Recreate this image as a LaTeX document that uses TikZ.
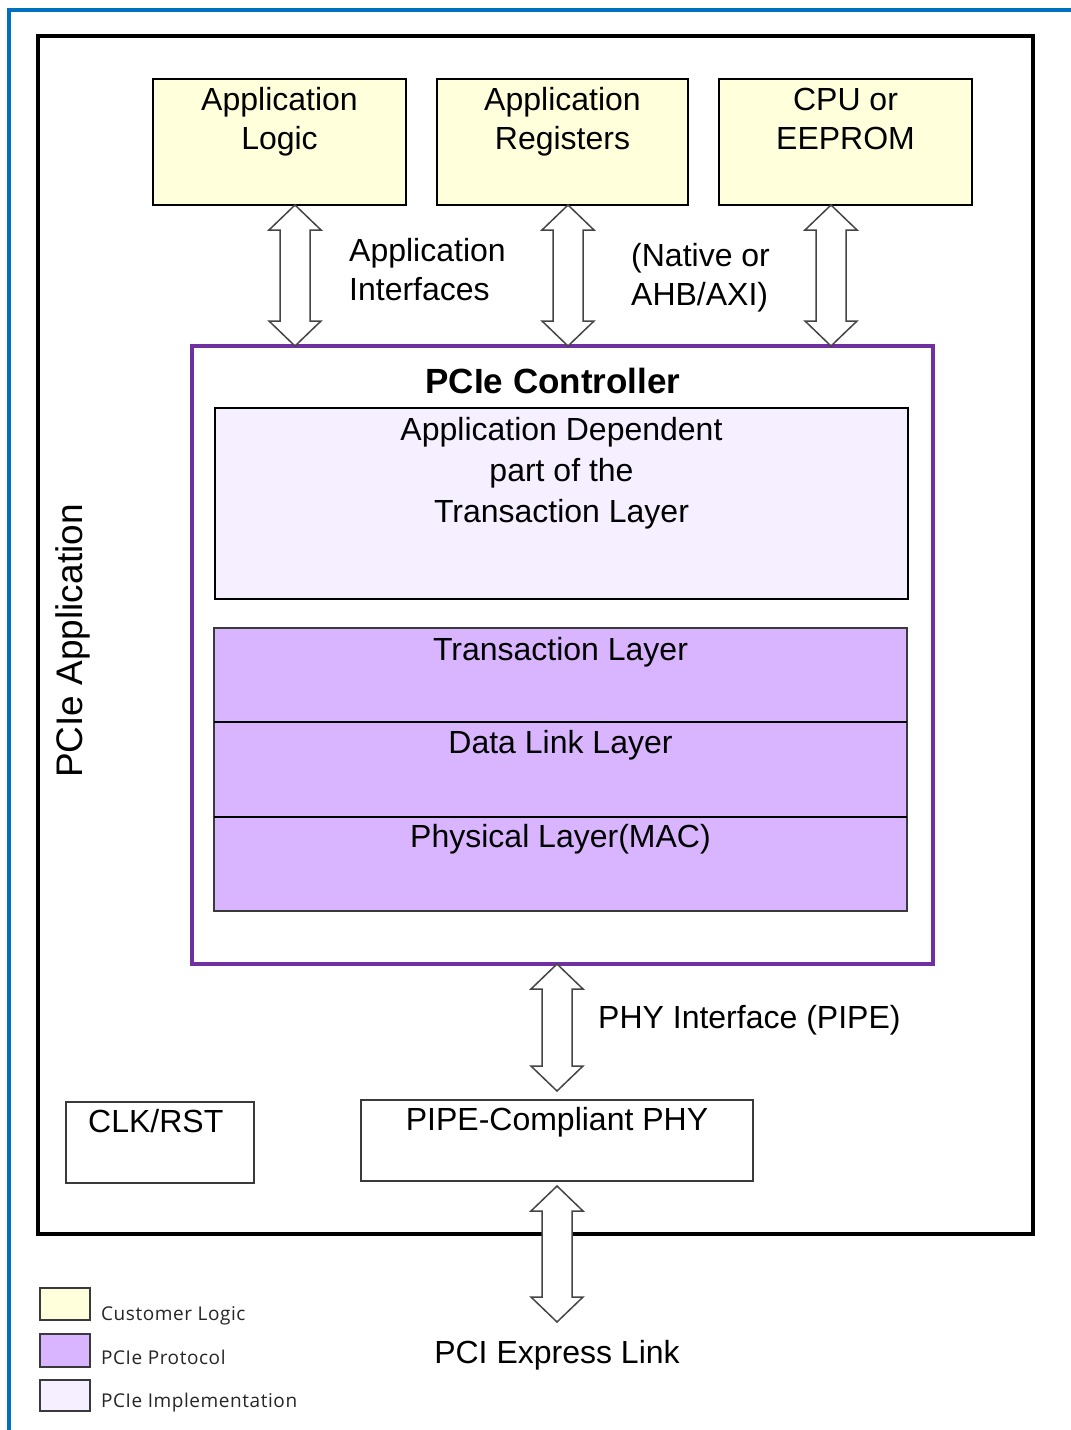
\documentclass[tikz,border=0pt]{standalone}
\usepackage{fontspec}
\setmainfont{Liberation Sans}
\newfontfamily\legendfont[LetterSpace=3]{Open Sans}
\usetikzlibrary{calc}
\definecolor{custY}{HTML}{FFFFDC}
\definecolor{protP}{HTML}{D9B5FF}
\definecolor{implP}{HTML}{F6EFFF}
\definecolor{ctrlP}{HTML}{7030A0}
\definecolor{frameB}{HTML}{0070C0}
\definecolor{arrG}{HTML}{454545}
\definecolor{edgeG}{HTML}{3A3A3A}
\tikzset{
  basebox/.style={inner sep=0pt, outer sep=0pt},
  ybox/.style={basebox, draw=black, line width=1.5pt, fill=custY},
  appbox/.style={basebox, draw=black, line width=3.5pt},
  ctrlbox/.style={basebox, draw=ctrlP, line width=3.5pt},
  implbox/.style={basebox, draw=black, line width=1.5pt, fill=implP},
  protbox/.style={basebox, draw=edgeG, line width=1.5pt, fill=protP},
  plainbox/.style={basebox, draw=edgeG, line width=1.5pt},
  legbox/.style={basebox, draw=edgeG, line width=2pt},
  txt/.style={font=\fontsize{32}{38}\selectfont, inner sep=0pt, anchor=base},
  ltxt/.style={txt, anchor=base west},
  boldtxt/.style={font=\fontsize{35}{40}\selectfont\bfseries, inner sep=0pt, anchor=base},
  sidetxt/.style={font=\fontsize{37}{42}\selectfont, inner sep=0pt, anchor=base, rotate=90},
  legtxt/.style={font=\legendfont\fontsize{19}{22}\selectfont, text=black!85, inner sep=0pt, anchor=base west},
  barrow/.style={draw=arrG, line width=1.5pt, fill=white, line join=miter},
  blueline/.style={draw=frameB, line width=4pt}
}
\newcommand\bx[6]{\node[#1, minimum width={(#5)-(#3)}, minimum height={(#6)-(#4)}] (#2) at ({((#3)+(#5))/2},{((#4)+(#6))/2}) {};}
\newcommand\dbarrow[2]{%
  \path[barrow] let \p1=(#1), \p2=(#2) in
    (\x1,\y1) -- (\x1+26pt,\y1-25pt) -- (\x1+15pt,\y1-25pt) -- (\x1+15pt,\y2+25pt)
    -- (\x1+26pt,\y2+25pt) -- (\x1,\y2) -- (\x1-26pt,\y2+25pt) -- (\x1-15pt,\y2+25pt)
    -- (\x1-15pt,\y1-25pt) -- (\x1-26pt,\y1-25pt) -- cycle;}
\begin{document}
\begin{tikzpicture}[x=1pt,y=-1pt]
\useasboundingbox (0,0) rectangle (1071,1430);
\fill[white] (0,0) rectangle (1071,1430);
% blue frame (cut off at right and bottom)
\coordinate (fb) at (9,1440);
\coordinate (fc) at (9,10);
\coordinate (fr) at (1080,10);
\draw[blueline] (fb) -- (fc) -- (fr);

% outer application box
\bx{appbox}{app}{38}{36}{1033}{1234}
\node[sidetxt] (tapp) at (82,641) {PCIe Application};

% customer logic boxes
\bx{ybox}{al}{153}{79}{406}{205}
\bx{ybox}{ar}{437}{79}{688}{205}
\bx{ybox}{cpu}{719}{79}{972}{205}
\node[txt] (tal1) at ($(al.north)+(0,31)$) {Application};
\node[txt] (tal2) at ($(al.north)+(0,70)$) {Logic};
\node[txt] (tar1) at ($(ar.north)+(0,31)$) {Application};
\node[txt] (tar2) at ($(ar.north)+(0,70)$) {Registers};
\node[txt] (tcp1) at ($(cpu.north)+(0,31)$) {CPU or};
\node[txt] (tcp2) at ($(cpu.north)+(0,70)$) {EEPROM};

\node[ltxt] (tif1) at (349,261) {Application};
\node[ltxt] (tif2) at (349,300) {Interfaces};
\node[ltxt] (tnat1) at (631,266) {(Native or};
\node[ltxt] (tnat2) at (631,305) {AHB/AXI)};

% controller
\bx{ctrlbox}{ctrl}{192}{346}{933}{964}
\node[boldtxt] (tctrl) at ($(ctrl.north)+(-9.5,47)$) {PCIe Controller};
\bx{implbox}{adep}{215}{408}{908}{599}
\node[txt] (tad1) at ($(adep.north)+(0,32)$) {Application Dependent};
\node[txt] (tad2) at ($(adep.north)+(0,73)$) {part of the};
\node[txt] (tad3) at ($(adep.north)+(0,114)$) {Transaction Layer};
\bx{protbox}{tl}{214}{628}{907}{722}
\bx{protbox}{dll}{214}{722}{907}{817}
\bx{protbox}{phy}{214}{817}{907}{911}
\draw[black, line width=1.5pt] (tl.south west) -- (tl.south east);
\draw[black, line width=1.5pt] (dll.south west) -- (dll.south east);
\node[txt] (ttl) at ($(tl.north)+(0,32)$) {Transaction Layer};
\node[txt] (tdll) at ($(dll.north)+(0,31)$) {Data Link Layer};
\node[txt] (tphy) at ($(phy.north)+(0,30)$) {Physical Layer(MAC)};

% PHY and clocks
\bx{plainbox}{pipe}{361}{1100}{753}{1181}
\node[txt] (tpipe) at ($(pipe.north)+(0,30)$) {PIPE-Compliant PHY};
\bx{plainbox}{clk}{66}{1102}{254}{1183}
\node[ltxt] (tclk) at ($(clk.north west)+(22,30)$) {CLK/RST};
\node[ltxt] (tpif) at (598,1028) {PHY Interface (PIPE)};
\node[txt] (tlink) at (557,1363) {PCI Express Link};

% block arrows
\coordinate (a1t) at ($(al.south)+(15.5,0)$);
\coordinate (a1b) at (a1t |- ctrl.north);
\coordinate (a2t) at ($(ar.south)+(5.5,0)$);
\coordinate (a2b) at (a2t |- ctrl.north);
\coordinate (a3t) at ($(cpu.south)+(-14.5,0)$);
\coordinate (a3b) at (a3t |- ctrl.north);
\coordinate (p1t) at (pipe.north |- ctrl.south);
\coordinate (p1b) at ($(pipe.north)+(0,-9)$);
\coordinate (p2t) at ($(pipe.south)+(0,5)$);
\coordinate (p2b) at ($(pipe.south)+(0,141)$);
\dbarrow{a1t}{a1b}
\dbarrow{a2t}{a2b}
\dbarrow{a3t}{a3b}
\dbarrow{p1t}{p1b}
\dbarrow{p2t}{p2b}

% legend
\bx{legbox, fill=custY}{lg1}{40}{1288}{90}{1320}
\bx{legbox, fill=protP}{lg2}{40}{1334}{90}{1367}
\bx{legbox, fill=implP}{lg3}{40}{1380}{90}{1411}
\node[legtxt] (tlg1) at ($(lg1.south east)+(11,0)$) {Customer Logic};
\node[legtxt] (tlg2) at ($(lg2.south east)+(11,-3)$) {PCIe Protocol};
\node[legtxt] (tlg3) at ($(lg3.south east)+(11,-4)$) {PCIe Implementation};
\end{tikzpicture}
\end{document}
